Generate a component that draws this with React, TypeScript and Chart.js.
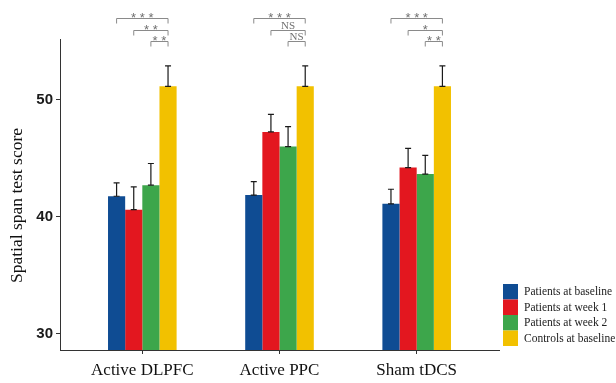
import React, { useEffect, useRef } from "react";
import { Chart, registerables } from "chart.js";

Chart.register(...registerables);

const categories = ["Active DLPFC", "Active PPC", "Sham tDCS"];
const seriesNames = ["Patients at baseline", "Patients at week 1", "Patients at week 2", "Controls at baseline"];
const seriesColors = ["#0F4C93", "#E3171F", "#3DA64B", "#F2C100"];
const baselineValues = [41.75, 41.85, 41.1];
const week1Values = [40.6, 47.25, 44.2];
const week2Values = [42.7, 46.0, 43.65];
const controlValues = [51.15, 51.15, 51.15];
const baselineErrors = [1.15, 1.15, 1.25];
const week1Errors = [1.95, 1.5, 1.65];
const week2Errors = [1.85, 1.7, 1.6];
const controlErrors = [1.75, 1.75, 1.75];
const yTicks = [30, 40, 50];
const yTitle = "Spatial span test score";
// significance labels: rows = category, cols = comparison of series 0,1,2 vs controls
const sigLabels = [
  ["***", "**", "**"],
  ["***", "NS", "NS"],
  ["***", "*", "**"],
];
const sigLevels = [57, 56, 55];

const allValues = [baselineValues, week1Values, week2Values, controlValues];
const allErrors = [baselineErrors, week1Errors, week2Errors, controlErrors];

const errorBarPlugin = {
  id: "errorBars",
  afterDatasetsDraw(chart: any) {
    const ctx = chart.ctx;
    const yScale = chart.scales.y;
    ctx.save();
    ctx.strokeStyle = "#1a1a1a";
    ctx.lineWidth = 1.2;
    chart.data.datasets.forEach((ds: any, di: number) => {
      const meta = chart.getDatasetMeta(di);
      meta.data.forEach((el: any, i: number) => {
        const v = allValues[di][i];
        const e = allErrors[di][i];
        const x = el.x;
        const y0 = yScale.getPixelForValue(v);
        const y1 = yScale.getPixelForValue(v + e);
        ctx.beginPath();
        ctx.moveTo(x, y0);
        ctx.lineTo(x, y1);
        ctx.moveTo(x - 3, y1);
        ctx.lineTo(x + 3, y1);
        ctx.moveTo(x - 3, y0);
        ctx.lineTo(x + 3, y0);
        ctx.stroke();
      });
    });
    ctx.restore();
  },
};

const bracketPlugin = {
  id: "brackets",
  afterDraw(chart: any) {
    const ctx = chart.ctx;
    const yScale = chart.scales.y;
    const ctrlMeta = chart.getDatasetMeta(3);
    ctx.save();
    ctx.strokeStyle = "#8a8a8a";
    ctx.fillStyle = "#707070";
    ctx.lineWidth = 1;
    ctx.textAlign = "center";
    ctx.textBaseline = "alphabetic";
    categories.forEach((_c, ci) => {
      for (let k = 0; k < 3; k++) {
        const meta = chart.getDatasetMeta(k);
        const x0 = meta.data[ci].x;
        const x1 = ctrlMeta.data[ci].x;
        const y = Math.round(yScale.getPixelForValue(sigLevels[k])) + 0.5;
        ctx.beginPath();
        ctx.moveTo(x0, y + 5);
        ctx.lineTo(x0, y);
        ctx.lineTo(x1, y);
        ctx.lineTo(x1, y + 5);
        ctx.stroke();
        const lab = sigLabels[ci][k];
        if (lab === "NS") {
          ctx.font = "11px 'Liberation Serif'";
          ctx.fillText(lab, (x0 + x1) / 2, y - 1.5);
        } else {
          ctx.font = "13px 'Liberation Sans'";
          ctx.fillText(lab.split("").join(" "), (x0 + x1) / 2, y + 3);
        }
      }
    });
    ctx.restore();
  },
};

const titleLegendPlugin = {
  id: "customLegend",
  afterDraw(chart: any) {
    const ctx = chart.ctx;
    const area = chart.chartArea;
    const left = area.right + 4;
    const boxH = 15.5;
    const top = area.bottom - 66;
    ctx.save();
    ctx.font = "11.5px 'Liberation Serif'";
    ctx.textBaseline = "middle";
    ctx.textAlign = "left";
    seriesNames.forEach((name, i) => {
      const y = top + i * boxH;
      ctx.fillStyle = seriesColors[i];
      ctx.fillRect(left, y, 15, boxH);
      ctx.fillStyle = "#222";
      ctx.fillText(name, left + 21, y + boxH / 2 + 0.5);
    });
    // y-axis title
    ctx.translate(17, (area.top + area.bottom) / 2 + 11);
    ctx.rotate(-Math.PI / 2);
    ctx.textAlign = "center";
    ctx.textBaseline = "middle";
    ctx.font = "17.5px 'Liberation Serif'";
    ctx.fillStyle = "#111";
    ctx.fillText(yTitle, 0, 0);
    ctx.restore();
  },
};

export default function App() {
  const ref = useRef<HTMLCanvasElement>(null);
  useEffect(() => {
    if (!ref.current) return;
    const datasets = seriesNames.map((name, si) => ({
      label: name,
      data: categories.map((_c, ci) => ({ x: ci + 1, y: allValues[si][ci] })),
      backgroundColor: seriesColors[si],
      borderWidth: 0,
      categoryPercentage: 0.5,
      barPercentage: 1.0,
    }));
    const chart = new Chart(ref.current, {
      type: "bar",
      data: { datasets },
      options: {
        animation: false,
        responsive: true,
        maintainAspectRatio: false,
        layout: { padding: { left: 0, top: 39, right: 117, bottom: 0 } },
        plugins: { legend: { display: false }, tooltip: { enabled: false } },
        scales: {
          x: {
            type: "linear",
            min: 0.4,
            max: 3.6,
            offset: false,
            afterBuildTicks: (s: any) => {
              s.ticks = categories.map((_c, i) => ({ value: i + 1 }));
            },
            afterFit: (s: any) => {
              s.height = 33;
            },
            ticks: {
              callback: (v: any) => categories[Math.round(v) - 1] ?? "",
              font: { family: "'Liberation Serif'", size: 17 },
              color: "#111",
              padding: 6,
              maxRotation: 0,
              autoSkip: false,
            },
            grid: { display: true, offset: false, drawOnChartArea: false, tickLength: 4, color: "#333" },
            border: { display: true, color: "#333", width: 1 },
          },
          y: {
            type: "linear",
            min: 28.6,
            max: 55.2,
            afterBuildTicks: (s: any) => {
              s.ticks = yTicks.map((v) => ({ value: v }));
            },
            afterFit: (s: any) => {
              s.width = 60;
            },
            ticks: {
              font: { family: "'Liberation Sans'", size: 15, weight: "bold" },
              color: "#1a1a1a",
              padding: 3,
            },
            grid: { display: true, drawOnChartArea: false, tickLength: 4, color: "#333" },
            border: { display: true, color: "#333", width: 1 },
          },
        },
      },
      plugins: [errorBarPlugin, bracketPlugin, titleLegendPlugin],
    } as any);
    return () => chart.destroy();
  }, []);
  return (
    <div style={{ position: "absolute", left: 0, top: 0, width: 616, height: 383, background: "#fff" }}>
      <canvas ref={ref} />
    </div>
  );
}
